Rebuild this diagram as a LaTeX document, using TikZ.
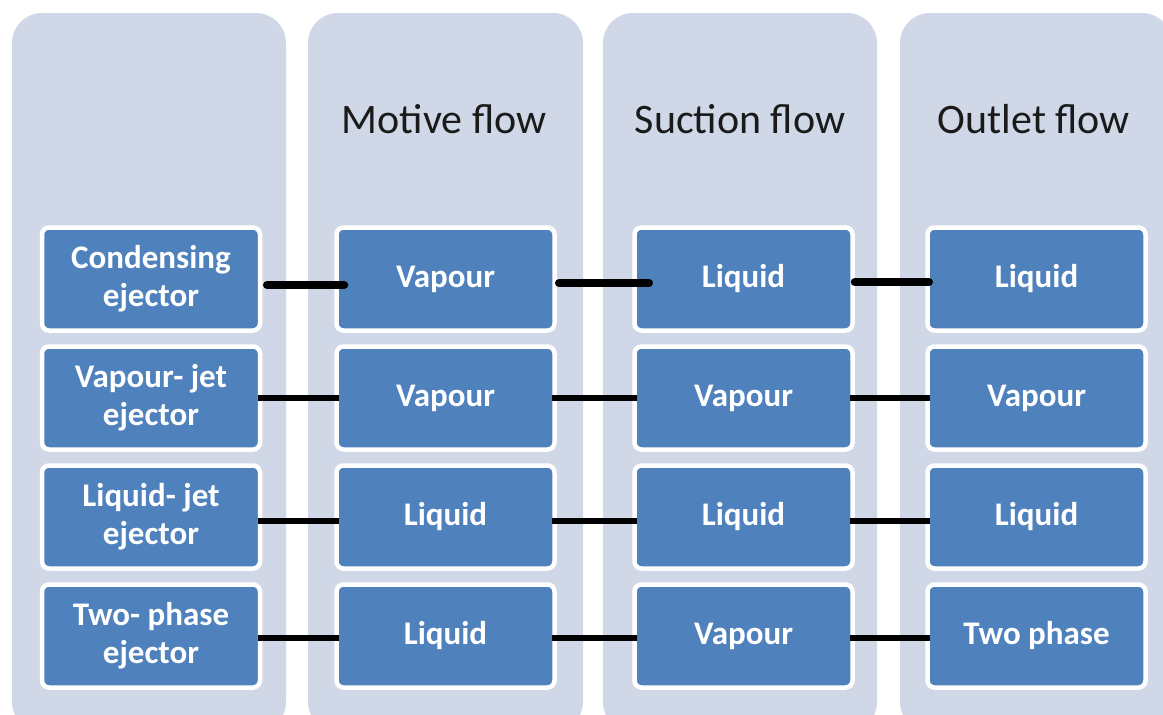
\documentclass[tikz,border=0pt]{standalone}
\usepackage{fontspec}
\setmainfont{Carlito}
\definecolor{colbg}{HTML}{D0D8E8}
\definecolor{boxblue}{HTML}{4F81BD}
\definecolor{hdr}{HTML}{1A1A1A}
\begin{document}
\begin{tikzpicture}[x=1pt,y=-1pt,
  colshape/.style={fill=colbg, rounded corners=30pt},
  hdrtext/.style={anchor=base, text=hdr, font=\fontsize{42}{48}\selectfont, inner sep=0pt},
  box/.style={fill=boxblue, draw=white, line width=4.5pt, rounded corners=7pt,
    minimum width=218pt, minimum height=103pt, text=white, align=center,
    font=\bfseries\fontsize{33}{38}\selectfont, inner sep=2pt},
  boldlink/.style={draw=black, line width=8pt, line cap=round},
  link/.style={draw=black, line width=6pt, shorten <=-4.5pt, shorten >=-4.5pt}]
\useasboundingbox (0,0) rectangle (1163,715);
% column backgrounds
\fill[colshape] (12,13) rectangle (286,732);
\fill[colshape] (308,13) rectangle (583,732);
\fill[colshape] (603,13) rectangle (877,732);
\fill[colshape] (900,13) rectangle (1172,732);
% headers
\node[hdrtext] (h2) at (444,133) {Motive flow};
\node[hdrtext] (h3) at (740,133) {Suction flow};
\node[hdrtext] (h4) at (1034,133) {Outlet flow};
% row 1
\node[box] (a1) at (151,279) {Condensing\\ejector};
\node[box] (a2) at (445.5,279) {Vapour};
\node[box] (a3) at (743.5,279) {Liquid};
\node[box] (a4) at (1036.5,279) {Liquid};
% row 2
\node[box] (b1) at (151,398) {Vapour- jet\\ejector};
\node[box] (b2) at (445.5,398) {Vapour};
\node[box] (b3) at (743.5,398) {Vapour};
\node[box] (b4) at (1036.5,398) {Vapour};
% row 3
\node[box] (c1) at (151,517) {Liquid- jet\\ejector};
\node[box] (c2) at (445.5,517) {Liquid};
\node[box] (c3) at (743.5,517) {Liquid};
\node[box] (c4) at (1036.5,517) {Liquid};
% row 4
\node[box] (d1) at (151,636) {Two- phase\\ejector};
\node[box] (d2) at (445.5,636) {Liquid};
\node[box] (d3) at (743.5,636) {Vapour};
\node[box] (d4) at (1036.5,636) {Two phase};
% connectors row 1
\draw[boldlink, shorten <=4.75pt, shorten >=-10pt] ([yshift=-6pt]a1.east) -- ([yshift=-6pt]a2.west);
\draw[boldlink, shorten <=2.25pt, shorten >=-16.75pt] ([yshift=-4pt]a2.east) -- ([yshift=-4pt]a3.west);
\draw[boldlink, shorten <=0pt, shorten >=-3.75pt] ([yshift=-3pt]a3.east) -- ([yshift=-3pt]a4.west);
% connectors rows 2-4
\draw[link] (b1.east) -- (b2.west);
\draw[link] (b2.east) -- (b3.west);
\draw[link] (b3.east) -- (b4.west);
\draw[link] ([yshift=-4pt]c1.east) -- ([yshift=-4pt]c2.west);
\draw[link] ([yshift=-4pt]c2.east) -- ([yshift=-4pt]c3.west);
\draw[link] ([yshift=-4pt]c3.east) -- ([yshift=-4pt]c4.west);
\draw[link] ([yshift=-2pt]d1.east) -- ([yshift=-2pt]d2.west);
\draw[link] ([yshift=-2pt]d2.east) -- ([yshift=-2pt]d3.west);
\draw[link] ([yshift=-2pt]d3.east) -- ([yshift=-2pt]d4.west);
\end{tikzpicture}
\end{document}
